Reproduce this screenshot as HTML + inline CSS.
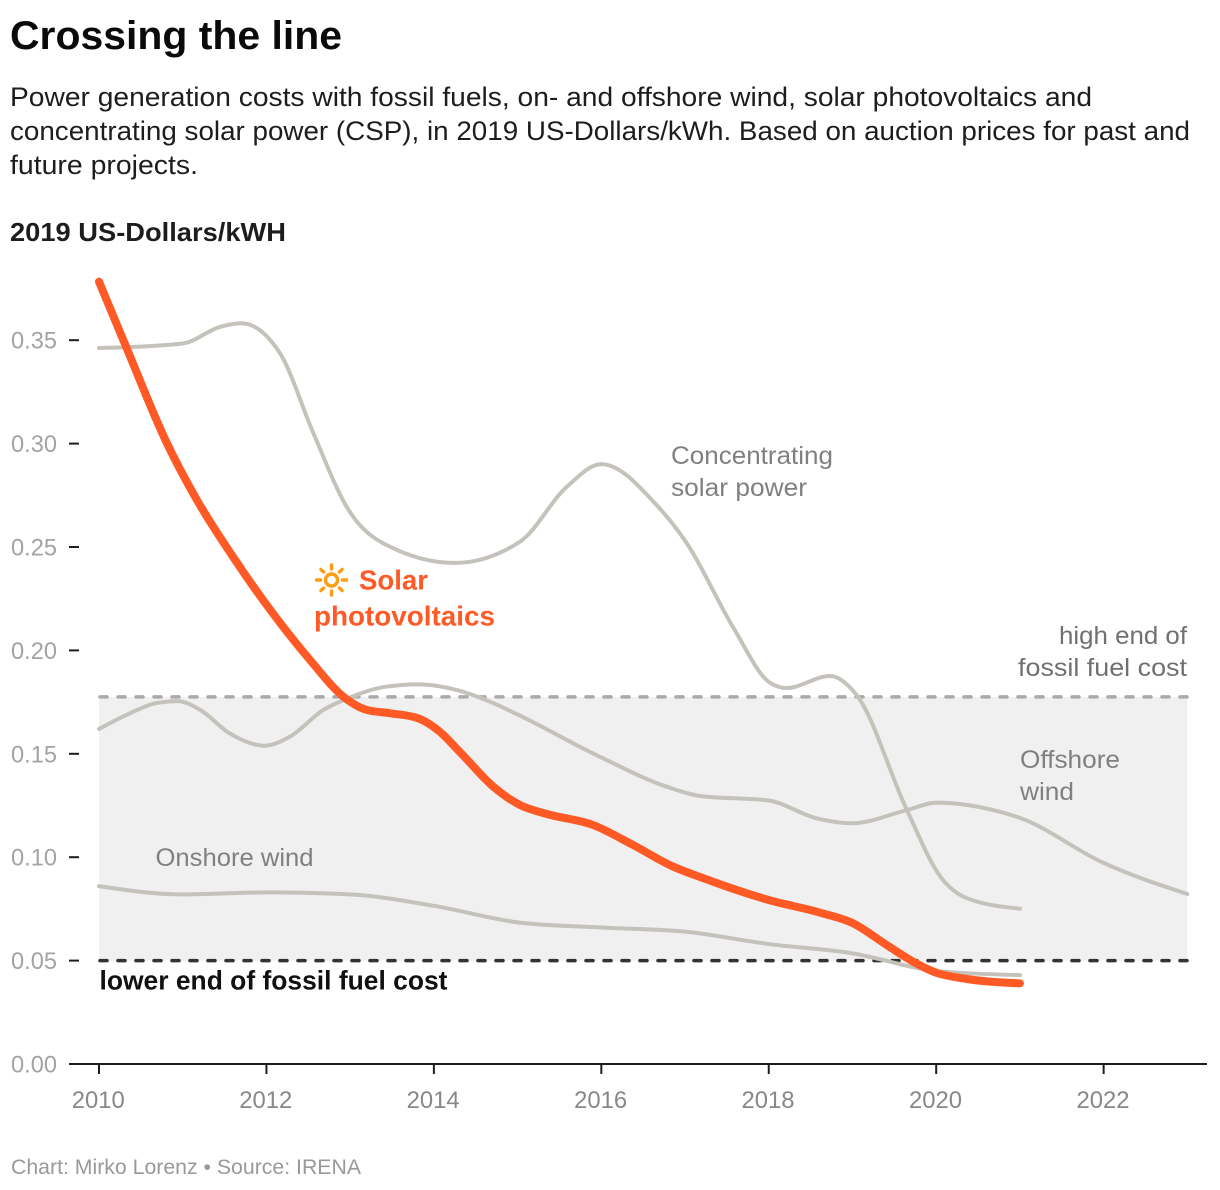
<!DOCTYPE html>
<html lang="en">
<head>
<meta charset="utf-8">
<title>Crossing the line</title>
<style>
html,body{margin:0;padding:0;background:#fff;width:1220px;height:1190px;overflow:hidden}
svg{display:block;font-family:"Liberation Sans",sans-serif}
</style>
</head>
<body>
<svg id="chart" xmlns="http://www.w3.org/2000/svg" width="1220" height="1190" viewBox="0 0 1220 1190">
  <text x="10" y="49" font-size="40" font-weight="700" fill="#0a0a0a" textLength="332" lengthAdjust="spacingAndGlyphs">Crossing the line</text>
  <g font-size="27" fill="#1d1d1d">
    <text x="10" y="106" textLength="1082" lengthAdjust="spacingAndGlyphs">Power generation costs with fossil fuels, on- and offshore wind, solar photovoltaics and</text>
    <text x="10" y="140" textLength="1180" lengthAdjust="spacingAndGlyphs">concentrating solar power (CSP), in 2019 US-Dollars/kWh. Based on auction prices for past and</text>
    <text x="10" y="174" textLength="188" lengthAdjust="spacingAndGlyphs">future projects.</text>
  </g>
  <text x="10" y="241" font-size="26" font-weight="700" fill="#1d1d1d" textLength="276" lengthAdjust="spacingAndGlyphs">2019 US-Dollars/kWH</text>
  <g id="band"></g>
  <g id="axes"></g>
  <g id="lines"></g>
  <g font-size="25" fill="#808080">
    <text x="671" y="464" textLength="162" lengthAdjust="spacingAndGlyphs">Concentrating</text>
    <text x="671" y="496" textLength="136" lengthAdjust="spacingAndGlyphs">solar power</text>
    <text x="1059" y="644" fill="#707070" textLength="128" lengthAdjust="spacingAndGlyphs">high end of</text>
    <text x="1018" y="676" fill="#707070" textLength="169" lengthAdjust="spacingAndGlyphs">fossil fuel cost</text>
    <text x="1020" y="768" textLength="100" lengthAdjust="spacingAndGlyphs">Offshore</text>
    <text x="1020" y="800" textLength="54" lengthAdjust="spacingAndGlyphs">wind</text>
    <text x="155.5" y="866" textLength="158" lengthAdjust="spacingAndGlyphs">Onshore wind</text>
    <text x="99.5" y="989.5" font-size="27" font-weight="700" fill="#111" textLength="348" lengthAdjust="spacingAndGlyphs">lower end of fossil fuel cost</text>
    <text x="359" y="589.5" font-size="28" font-weight="700" fill="#ff5a26" textLength="69" lengthAdjust="spacingAndGlyphs">Solar</text>
    <text x="314" y="625.5" font-size="28" font-weight="700" fill="#ff5a26" textLength="181" lengthAdjust="spacingAndGlyphs">photovoltaics</text>
  </g>
  <g transform="translate(331.5 580)" fill="none" stroke="#ff9d14" stroke-width="3.4" stroke-linecap="round">
    <circle r="6"></circle>
    <path d="M0 -15V-11M0 15V11M-15 0H-11M15 0H11M-10.6 -10.6L-8 -8M10.6 -10.6L8 -8M-10.6 10.6L-8 8M10.6 10.6L8 8"></path>
  </g>
  <text x="11" y="1174" font-size="21" fill="#999" textLength="350" lengthAdjust="spacingAndGlyphs">Chart: Mirko Lorenz • Source: IRENA</text>
</svg>
<script>
// ---- data ----
const xTicks = [2010, 2012, 2014, 2016, 2018, 2020, 2022];
const yTicks = [0, 0.05, 0.10, 0.15, 0.20, 0.25, 0.30, 0.35];
const fossilLow = 0.05;
const fossilHigh = 0.1775;
const bandStartYear = 2010;
const bandEndYear = 2023;

const solarYears = [2010, 2010.33, 2010.81, 2011.17, 2011.6, 2012.52, 2012.92, 2013.2, 2013.48, 2013.81, 2014.07, 2014.31, 2014.71, 2015.03, 2015.35, 2015.9, 2016.38, 2016.86, 2017.18, 2018, 2018.61, 2019, 2019.41, 2019.69, 2020.01, 2020.32, 2021];
const solarValues = [0.3783, 0.3462, 0.3003, 0.2727, 0.2453, 0.1954, 0.1776, 0.1712, 0.1696, 0.1672, 0.1607, 0.1509, 0.1341, 0.1252, 0.1209, 0.1156, 0.1059, 0.0954, 0.0904, 0.0793, 0.0732, 0.0682, 0.0575, 0.0503, 0.044, 0.0414, 0.039];

const cspYears = [2010, 2011, 2011.45, 2011.7, 2012.16, 2012.56, 2012.96, 2013.56, 2014.25, 2015.03, 2015.59, 2016, 2016.66, 2017.02, 2017.57, 2018.02, 2018.21, 2018.73, 2019.05, 2019.65, 2020.05, 2020.36, 2021];
const cspValues = [0.3462, 0.3484, 0.3565, 0.3582, 0.3438, 0.3051, 0.2693, 0.2486, 0.2423, 0.2526, 0.2792, 0.2901, 0.2703, 0.2519, 0.2115, 0.1842, 0.1818, 0.1876, 0.1784, 0.1228, 0.0906, 0.0803, 0.0751];

const offshoreYears = [2010, 2010.37, 2010.69, 2010.94, 2011.21, 2011.56, 2011.98, 2012.28, 2012.68, 2013, 2013.39, 2013.81, 2014.27, 2014.67, 2014.99, 2015.98, 2016.78, 2017.18, 2018, 2018.57, 2018.99, 2019.65, 2020.01, 2020.68, 2021, 2022, 2023];
const offshoreValues = [0.162, 0.1696, 0.1746, 0.1755, 0.1712, 0.1599, 0.1539, 0.1583, 0.1712, 0.1773, 0.1822, 0.1836, 0.1809, 0.1752, 0.1692, 0.1486, 0.1341, 0.1296, 0.1274, 0.1188, 0.1164, 0.1228, 0.1264, 0.1228, 0.119, 0.0972, 0.0822];

const onshoreYears = [2010, 2011, 2012, 2013, 2014, 2015, 2016, 2017, 2018, 2019, 2020, 2021];
const onshoreValues = [0.086, 0.082, 0.083, 0.082, 0.0765, 0.0685, 0.066, 0.064, 0.058, 0.0535, 0.045, 0.043];

// ---- axis functions ----
const SVGNS = 'http://www.w3.org/2000/svg';
function xScale(year) { return 99 + (year - 2010) * 83.72; }
function yScale(value) { return 1064 - value * 2068; }

function make(tag, attrs, parent) {
  const el = document.createElementNS(SVGNS, tag);
  for (const k in attrs) el.setAttribute(k, attrs[k]);
  parent.appendChild(el);
  return el;
}

// monotone cubic interpolation between the read values
function smoothPath(years, values) {
  const xs = years.map(xScale);
  const ys = values.map(yScale);
  const n = xs.length;
  const seg = [];
  for (let i = 0; i < n - 1; i++) seg.push((ys[i + 1] - ys[i]) / (xs[i + 1] - xs[i]));
  const slope = new Array(n).fill(0);
  for (let i = 1; i < n - 1; i++) {
    const s0 = seg[i - 1];
    const s1 = seg[i];
    if (s0 * s1 <= 0) continue;
    const h0 = xs[i] - xs[i - 1];
    const h1 = xs[i + 1] - xs[i];
    const p = (s0 * h1 + s1 * h0) / (h0 + h1);
    slope[i] = Math.sign(s0) * Math.min(2 * Math.abs(s0), 2 * Math.abs(s1), Math.abs(p));
  }
  slope[0] = (3 * seg[0] - slope[1]) / 2;
  slope[n - 1] = (3 * seg[n - 2] - slope[n - 2]) / 2;
  let d = 'M' + xs[0].toFixed(2) + ' ' + ys[0].toFixed(2);
  for (let i = 0; i < n - 1; i++) {
    const dx = xs[i + 1] - xs[i];
    d += 'C' + (xs[i] + dx / 3).toFixed(2) + ' ' + (ys[i] + slope[i] * dx / 3).toFixed(2) +
      ' ' + (xs[i + 1] - dx / 3).toFixed(2) + ' ' + (ys[i + 1] - slope[i + 1] * dx / 3).toFixed(2) +
      ' ' + xs[i + 1].toFixed(2) + ' ' + ys[i + 1].toFixed(2);
  }
  return d;
}

// ---- band and dashed fossil lines ----
const bandGroup = document.getElementById('band');
const bandRect = make('rect', {
  x: xScale(bandStartYear),
  y: yScale(fossilHigh),
  width: xScale(bandEndYear) - xScale(bandStartYear),
  height: yScale(fossilLow) - yScale(fossilHigh),
  fill: '#f0f0f0'
}, bandGroup);



const highLine = make('line', {
  x1: xScale(bandStartYear) + 1, x2: xScale(bandEndYear),
  y1: yScale(fossilHigh), y2: yScale(fossilHigh),
  stroke: '#aaaaaa', 'stroke-width': 3.5, 'stroke-dasharray': '7 11', 'stroke-linecap': 'round'
}, bandGroup);



const lowLine = make('line', {
  x1: xScale(bandStartYear) + 1, x2: xScale(bandEndYear),
  y1: yScale(fossilLow), y2: yScale(fossilLow),
  stroke: '#333333', 'stroke-width': 3.5, 'stroke-dasharray': '7 11', 'stroke-linecap': 'round'
}, bandGroup);



// ---- axes ----
const axesGroup = document.getElementById('axes');
const baseLine = make('line', { x1: 69, x2: 1207, y1: yScale(0), y2: yScale(0), stroke: '#1d1d1d', 'stroke-width': 2 }, axesGroup);



xTicks.forEach(function (t) {
  const mark = make('line', { x1: xScale(t), x2: xScale(t), y1: yScale(0), y2: yScale(0) + 10, stroke: '#1d1d1d', 'stroke-width': 2 }, axesGroup);
  
  
  const label = make('text', { x: xScale(t) - 0.7, y: 1108, 'text-anchor': 'middle', 'font-size': 24, fill: '#888888', textLength: 53, lengthAdjust: 'spacingAndGlyphs' }, axesGroup);
  
  
  label.textContent = String(t);
});

yTicks.forEach(function (t) {
  if (t > 0) {
    const mark = make('line', { x1: 69, x2: 79, y1: yScale(t), y2: yScale(t), stroke: '#1d1d1d', 'stroke-width': 2 }, axesGroup);
    
    
  }
  const label = make('text', { x: 57, y: yScale(t) + 8.5, 'text-anchor': 'end', 'font-size': 24, fill: '#a3a3a3', textLength: 46, lengthAdjust: 'spacingAndGlyphs' }, axesGroup);
  
  
  label.textContent = t.toFixed(2);
});

// ---- series ----
const linesGroup = document.getElementById('lines');
function drawSeries(years, values, color, width) {
  return make('path', {
    d: smoothPath(years, values),
    fill: 'none',
    stroke: color,
    'stroke-width': width,
    'stroke-linecap': 'round',
    'stroke-linejoin': 'round'
  }, linesGroup);
}

const onshorePath = drawSeries(onshoreYears, onshoreValues, '#c4c2bb', 4);



const offshorePath = drawSeries(offshoreYears, offshoreValues, '#c4c2bb', 4);



const cspPath = drawSeries(cspYears, cspValues, '#c4c2bb', 4);



const solarPath = drawSeries(solarYears, solarValues, '#ff5a26', 8);


</script>
</body>
</html>
